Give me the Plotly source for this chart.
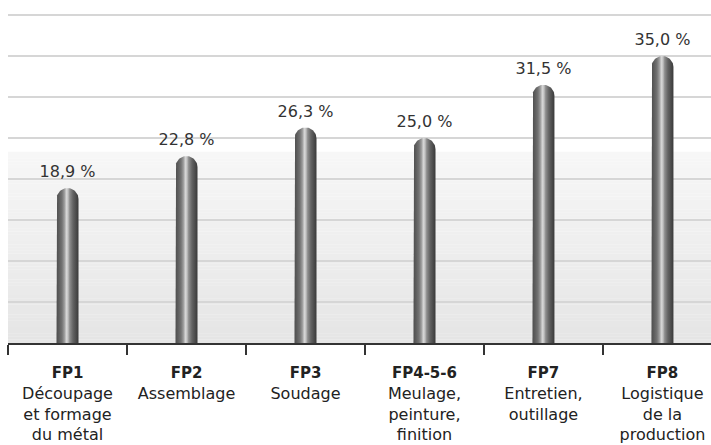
import numpy as np
import plotly.graph_objects as go

# Share of workers per functional group (%)
codes = ["FP1", "FP2", "FP3", "FP4-5-6", "FP7", "FP8"]
descriptions = [
    "Découpage<br>et formage<br>du métal",
    "Assemblage",
    "Soudage",
    "Meulage,<br>peinture,<br>finition",
    "Entretien,<br>outillage",
    "Logistique<br>de la<br>production",
]
shares = [18.9, 22.8, 26.3, 25.0, 31.5, 35.0]

# Canvas / plot-area geometry
W, H = 711, 445
M_L, M_R, M_T, M_B = 8, 0, 11, 102
X_RANGE = [-0.5, 5.408]
Y_RANGE = [0, 40.5]
plot_w = W - M_L - M_R
plot_h = H - M_T - M_B
px_per_x = plot_w / (X_RANGE[1] - X_RANGE[0])
px_per_y = plot_h / (Y_RANGE[1] - Y_RANGE[0])

ROD_HALF_PX = 11
hx = ROD_HALF_PX / px_per_x
hy = ROD_HALF_PX / px_per_y

FONT = "DejaVu Sans"

# Metallic cylinder shading, left to right
rod_scale = [
    [0.00, "#4e4e4e"],
    [0.12, "#5e5e5e"],
    [0.25, "#737373"],
    [0.36, "#9c9c9c"],
    [0.45, "#d6d6d6"],
    [0.52, "#c4c4c4"],
    [0.60, "#8e8e8e"],
    [0.75, "#636363"],
    [0.90, "#4a4a4a"],
    [1.00, "#3a3a3a"],
]

fig = go.Figure()

theta = np.linspace(np.pi, 0, 40)
for i, v in enumerate(shares):
    xs = [i - hx] + list(i + hx * np.cos(theta)) + [i + hx, i - hx]
    ys = [0] + list((v - hy) + hy * np.sin(theta)) + [0, 0]
    fig.add_trace(go.Scatter(
        x=xs, y=ys, mode="lines", fill="toself",
        line=dict(width=0, color="rgba(0,0,0,0)"),
        fillgradient=dict(type="horizontal", colorscale=rod_scale),
        hoverinfo="skip", showlegend=False,
    ))

# Value labels above each rod (on the category-label axis)
fig.add_trace(go.Scatter(
    x=list(range(len(shares))), y=shares,
    xaxis="x2", yaxis="y",
    mode="markers+text",
    marker=dict(size=9, opacity=0),
    text=[f"{v:.1f}".replace(".", ",") + " %" for v in shares],
    textposition="top center",
    textfont=dict(family=FONT, size=16, color="#333333"),
    hoverinfo="skip", showlegend=False,
))

# Soft grey band behind the lower part of the chart
band_top = 23.3
n_bands = 60
for k in range(n_bands):
    y0 = band_top * k / n_bands
    y1 = band_top * (k + 1) / n_bands
    t = (k + 0.5) / n_bands
    g = int(round(229 + (247 - 229) * t))
    fig.add_shape(
        type="rect", xref="x domain", yref="y",
        x0=0, x1=1, y0=y0, y1=y1 + 0.02,
        fillcolor=f"rgb({g},{g},{g})", line=dict(width=0),
        layer="below",
    )

tick_text = [
    f"<b><span style='font-size:15px'>{c}</span></b><br>{d}"
    for c, d in zip(codes, descriptions)
]

fig.update_layout(
    width=W, height=H,
    margin=dict(l=M_L, r=M_R, t=M_T, b=M_B),
    paper_bgcolor="white", plot_bgcolor="white",
    showlegend=False,
    xaxis=dict(
        range=X_RANGE, tickmode="array",
        tickvals=[k - 0.5 for k in range(len(codes))],
        ticks="outside", ticklen=10, tickwidth=1.5, tickcolor="#333333",
        showticklabels=False, showgrid=False, zeroline=False,
        showline=True, linecolor="#333333", linewidth=1.5,
    ),
    xaxis2=dict(
        overlaying="x", anchor="y", side="bottom",
        range=X_RANGE, tickmode="array",
        tickvals=list(range(len(codes))), ticktext=tick_text,
        ticks="", showgrid=False, zeroline=False, showline=False,
        tickfont=dict(family=FONT, size=16, color="#222222"),
        ticklabelstandoff=18,
    ),
    yaxis=dict(
        range=Y_RANGE, dtick=5, tick0=0,
        showgrid=True, gridcolor="#d6d6d6", gridwidth=1.5,
        showticklabels=False, zeroline=False, ticks="",
    ),
)

fig.write_html("out.html")
